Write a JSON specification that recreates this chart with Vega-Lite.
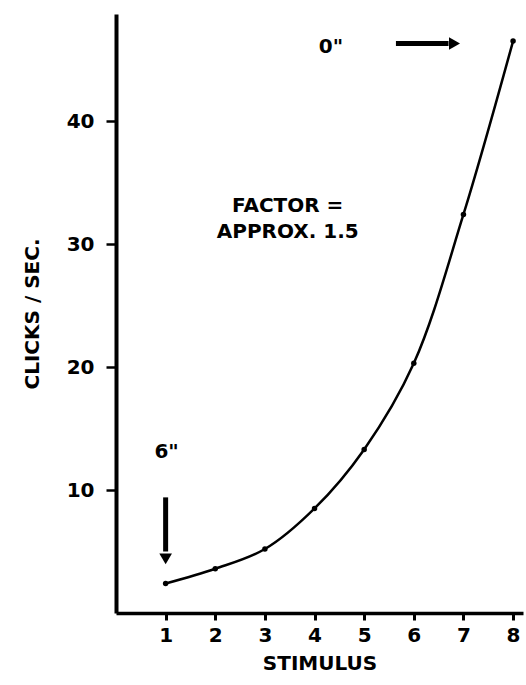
{
  "$schema": "https://vega.github.io/schema/vega-lite/v6.json",
  "autosize": "none",
  "width": 407,
  "height": 599,
  "padding": {"left": 116, "top": 14, "right": 3, "bottom": 72},
  "background": "white",
  "config": {
    "view": {"stroke": null},
    "font": "DejaVu Sans",
    "axis": {"grid": false, "domainColor": "black", "tickColor": "black", "labelColor": "black", "titleColor": "black", "labelFont": "DejaVu Sans", "titleFont": "DejaVu Sans", "labelFontWeight": "bold", "titleFontWeight": "bold"}
  },
  "datasets": {
    "pts": [
      {"stimulus": 1, "clicks": 2.4},
      {"stimulus": 2, "clicks": 3.6},
      {"stimulus": 3, "clicks": 5.2},
      {"stimulus": 4, "clicks": 8.5},
      {"stimulus": 5, "clicks": 13.3},
      {"stimulus": 6, "clicks": 20.3},
      {"stimulus": 7, "clicks": 32.4},
      {"stimulus": 8, "clicks": 46.5}
    ],
    "arrows": [
      {"x": 5.64, "x2": 6.7, "y": 46.3, "y2": 46.3},
      {"x": 1, "x2": 1, "y": 9.4, "y2": 5.0}
    ],
    "heads": [
      {"x": 6.82, "y": 46.3, "shape": "triangle-right"},
      {"x": 1, "y": 4.4, "shape": "triangle-down"}
    ],
    "labels": [
      {"x": 4.33, "y": 46.0, "text": "0\""},
      {"x": 1.02, "y": 13.1, "text": "6\""},
      {"x": 3.46, "y": 33.1, "text": "FACTOR ="},
      {"x": 3.46, "y": 31.0, "text": "APPROX. 1.5"}
    ]
  },
  "layer": [
    {
      "data": {"name": "pts"},
      "mark": {"type": "line", "color": "black", "strokeWidth": 2.5, "interpolate": "catmull-rom"},
      "encoding": {
        "x": {"field": "stimulus", "type": "quantitative", "scale": {"domain": [0, 8.2], "nice": false, "zero": false},
          "axis": {"values": [1, 2, 3, 4, 5, 6, 7, 8], "title": "STIMULUS", "titleFontSize": 20, "titlePadding": 8, "labelFontSize": 20, "labelPadding": 5, "tickSize": 7, "tickWidth": 3, "domainWidth": 3.5, "labelAngle": 0}},
        "y": {"field": "clicks", "type": "quantitative", "scale": {"domain": [0, 48.7], "nice": false},
          "axis": {"values": [10, 20, 30, 40], "title": "CLICKS / SEC.", "titleFontSize": 20, "titlePadding": 24, "labelFontSize": 20, "labelPadding": 12, "tickSize": 10, "tickWidth": 2.5, "domainWidth": 4}}
      }
    },
    {
      "data": {"name": "pts"},
      "mark": {"type": "point", "filled": true, "color": "black", "size": 30, "opacity": 1},
      "encoding": {
        "x": {"field": "stimulus", "type": "quantitative"},
        "y": {"field": "clicks", "type": "quantitative"}
      }
    },
    {
      "data": {"name": "arrows"},
      "mark": {"type": "rule", "color": "black", "strokeWidth": 5},
      "encoding": {
        "x": {"field": "x", "type": "quantitative"},
        "x2": {"field": "x2"},
        "y": {"field": "y", "type": "quantitative"},
        "y2": {"field": "y2"}
      }
    },
    {
      "data": {"name": "heads"},
      "mark": {"type": "point", "filled": true, "color": "black", "size": 160, "opacity": 1},
      "encoding": {
        "x": {"field": "x", "type": "quantitative"},
        "y": {"field": "y", "type": "quantitative"},
        "shape": {"field": "shape", "type": "nominal", "scale": null, "legend": null}
      }
    },
    {
      "data": {"name": "labels"},
      "mark": {"type": "text", "color": "black", "fontSize": 20, "fontWeight": "bold", "font": "DejaVu Sans", "align": "center", "baseline": "middle"},
      "encoding": {
        "x": {"field": "x", "type": "quantitative"},
        "y": {"field": "y", "type": "quantitative"},
        "text": {"field": "text"}
      }
    }
  ]
}
